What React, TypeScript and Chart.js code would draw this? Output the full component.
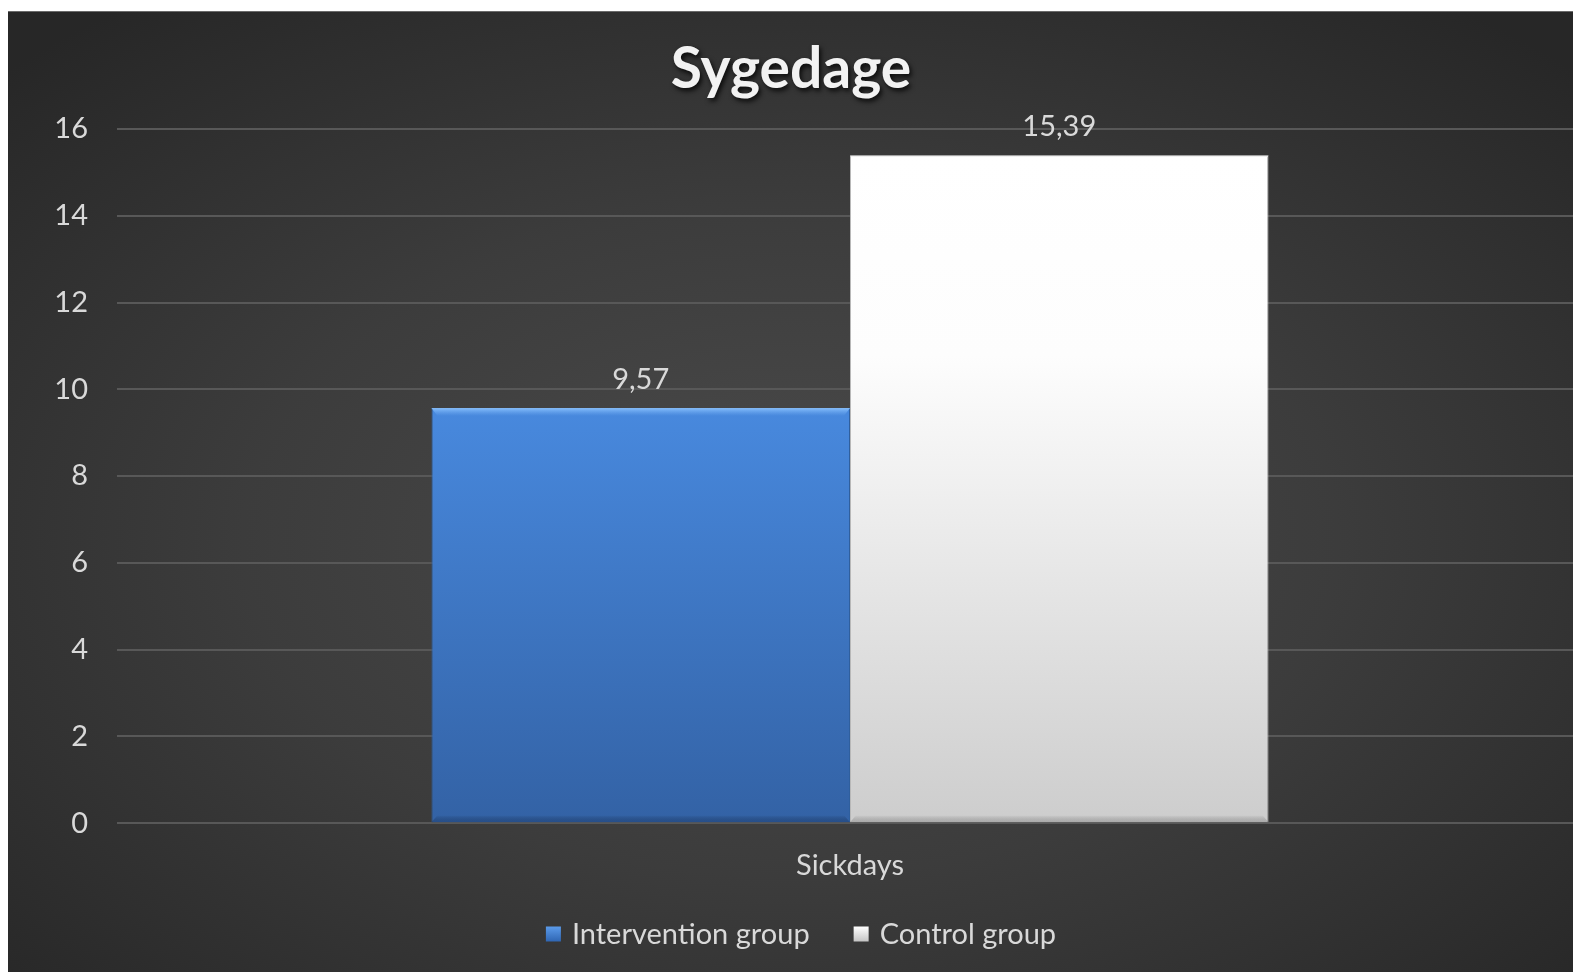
import React, { useEffect, useRef } from "react";
import { Chart, registerables } from "chart.js";

Chart.register(...registerables);

const TITLE = "Sygedage";
const categories = ["Sickdays"];
const seriesNames = ["Intervention group", "Control group"];
const interventionValues = [9.57];
const controlValues = [15.39];
const yTicks = [0, 2, 4, 6, 8, 10, 12, 14, 16];

const FONT = "Lato, 'Open Sans', sans-serif";
const TEXT = "#d9d9d9";

const fmt = (v: number) => v.toFixed(2).replace(".", ",");

const blueFill = (ctx: any) => {
  const chart = ctx.chart;
  const area = chart.chartArea;
  if (!area) return "#3f7acb";
  const y = chart.scales.y;
  const top = y.getPixelForValue(interventionValues[ctx.dataIndex] ?? 0);
  const g = chart.ctx.createLinearGradient(0, top, 0, area.bottom);
  g.addColorStop(0, "#4889de");
  g.addColorStop(1, "#3362a5");
  return g;
};

const whiteFill = (ctx: any) => {
  const chart = ctx.chart;
  const area = chart.chartArea;
  if (!area) return "#eeeeee";
  const y = chart.scales.y;
  const top = y.getPixelForValue(controlValues[ctx.dataIndex] ?? 0);
  const g = chart.ctx.createLinearGradient(0, top, 0, area.bottom);
  g.addColorStop(0, "#ffffff");
  g.addColorStop(0.3, "#fdfdfd");
  g.addColorStop(1, "#cdcdcd");
  return g;
};

const LEGEND_COLORS = [
  ["#5b9bea", "#2f66b3"],
  ["#ffffff", "#c4c4c4"],
];

const extrasPlugin = {
  id: "extras",
  afterDatasetsDraw(chart: any) {
    const { ctx } = chart;
    ctx.save();
    chart.data.datasets.forEach((_ds: any, di: number) => {
      const meta = chart.getDatasetMeta(di);
      meta.data.forEach((bar: any) => {
        const l = bar.x - bar.width / 2;
        const r = bar.x + bar.width / 2;
        const t = bar.y;
        const b = bar.base;
        const tg = ctx.createLinearGradient(0, t, 0, t + 8);
        if (di === 0) {
          tg.addColorStop(0, "rgba(140,195,255,0.95)");
          tg.addColorStop(1, "rgba(110,170,240,0)");
        } else {
          tg.addColorStop(0, "rgba(255,255,255,0.9)");
          tg.addColorStop(1, "rgba(255,255,255,0)");
        }
        ctx.fillStyle = tg;
        ctx.beginPath();
        ctx.moveTo(l, t);
        ctx.lineTo(r, t);
        ctx.lineTo(r - 6, t + 8);
        ctx.lineTo(l + 6, t + 8);
        ctx.closePath();
        ctx.fill();
        const bg = ctx.createLinearGradient(0, b - 7, 0, b);
        bg.addColorStop(0, "rgba(0,0,0,0)");
        bg.addColorStop(1, di === 0 ? "rgba(20,50,100,0.4)" : "rgba(90,90,90,0.3)");
        ctx.fillStyle = bg;
        ctx.beginPath();
        ctx.moveTo(l + 6, b - 7);
        ctx.lineTo(r - 6, b - 7);
        ctx.lineTo(r, b);
        ctx.lineTo(l, b);
        ctx.closePath();
        ctx.fill();
      });
    });
    ctx.restore();
  },
  afterDraw(chart: any) {
    const { ctx } = chart;
    ctx.save();
    ctx.font = `bold 57px ${FONT}`;
    ctx.textAlign = "center";
    ctx.textBaseline = "middle";
    ctx.shadowColor = "rgba(0,0,0,0.8)";
    ctx.shadowOffsetX = 2;
    ctx.shadowOffsetY = 3;
    ctx.shadowBlur = 5;
    ctx.fillStyle = "#f2f2f2";
    ctx.fillText(TITLE, 783, 58);
    ctx.shadowColor = "transparent";
    ctx.font = `29px ${FONT}`;
    ctx.fillStyle = TEXT;
    ctx.textBaseline = "alphabetic";
    chart.data.datasets.forEach((ds: any, di: number) => {
      const meta = chart.getDatasetMeta(di);
      meta.data.forEach((bar: any, i: number) => {
        ctx.fillText(fmt(ds.data[i]), bar.x, bar.y - 19);
      });
    });
    ctx.font = `29px ${FONT}`;
    ctx.textAlign = "left";
    ctx.textBaseline = "middle";
    const box = 15;
    const gapBoxText = 11;
    const gapItems = 44;
    const widths = seriesNames.map((n) => ctx.measureText(n).width);
    const total =
      widths.reduce((a, w) => a + box + gapBoxText + w, 0) + gapItems * (seriesNames.length - 1);
    let x = 793 - total / 2;
    const cy = 922;
    seriesNames.forEach((n, i) => {
      const g = ctx.createLinearGradient(0, cy - box / 2, 0, cy + box / 2);
      g.addColorStop(0, LEGEND_COLORS[i][0]);
      g.addColorStop(1, LEGEND_COLORS[i][1]);
      ctx.fillStyle = g;
      ctx.fillRect(x, cy - box / 2, box, box);
      ctx.fillStyle = TEXT;
      ctx.fillText(n, x + box + gapBoxText, cy + 1);
      x += box + gapBoxText + widths[i] + gapItems;
    });
    ctx.restore();
  },
};

export default function App() {
  const ref = useRef<HTMLCanvasElement>(null);
  useEffect(() => {
    if (!ref.current) return;
    const chart = new Chart(ref.current, {
      type: "bar",
      data: {
        labels: categories,
        datasets: [
          {
            label: seriesNames[0],
            data: interventionValues,
            backgroundColor: blueFill,
            borderColor: "#2f5f9e",
            borderWidth: 1,
          },
          {
            label: seriesNames[1],
            data: controlValues,
            backgroundColor: whiteFill,
            borderColor: "#b8b8b8",
            borderWidth: 1,
          },
        ],
      },
      options: {
        responsive: false,
        animation: false,
        layout: { padding: { top: 117, right: 1, left: 0, bottom: 72 } },
        datasets: { bar: { barPercentage: 1, categoryPercentage: 0.571 } },
        scales: {
          x: {
            grid: { display: false },
            border: { display: false },
            ticks: { color: TEXT, font: { family: FONT, size: 29 }, padding: 17 },
          },
          y: {
            min: 0,
            max: 16,
            afterBuildTicks: (s: any) => {
              s.ticks = yTicks.map((v) => ({ value: v }));
            },
            afterFit: (s: any) => {
              s.width = 109;
            },
            grid: { color: "#585858", lineWidth: 2, drawTicks: false },
            border: { display: false },
            ticks: { color: TEXT, font: { family: FONT, size: 29 }, padding: 29 },
          },
        },
        plugins: {
          title: { display: false },
          tooltip: { enabled: false },
          legend: { display: false },
        },
      },
      plugins: [extrasPlugin],
    });
    return () => chart.destroy();
  }, []);
  return (
    <div
      style={{
        position: "fixed",
        left: 8,
        top: 11,
        width: 1565,
        height: 961,
        overflow: "hidden",
        borderTop: "1px solid #6a6a6a",
        boxSizing: "border-box",
        background:
          "radial-gradient(ellipse 70% 70% at 50% 55%, #4b4b4b 0%, #3c3c3c 50%, #272727 100%)",
      }}
    >
      <canvas ref={ref} width={1576} height={960} style={{ display: "block" }} />
    </div>
  );
}
